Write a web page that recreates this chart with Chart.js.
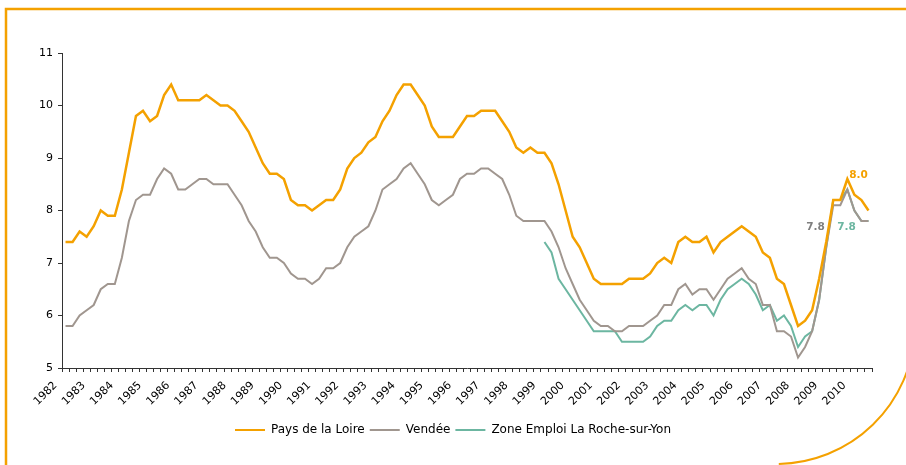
<!DOCTYPE html>
<html>
<head>
<meta charset="utf-8">
<script src="https://cdn.jsdelivr.net/npm/chart.js@4/dist/chart.umd.min.js"></script>
<style>
  html, body { margin: 0; padding: 0; background: #fff; }
  #wrap { width: 906px; height: 465px; }
</style>
</head>
<body>
<div id="wrap"><canvas id="taux-chomage" width="906" height="465"></canvas></div>
<script>
// années affichées sur l'axe (une étiquette par 1er trimestre)
const annees = [1982, 1983, 1984, 1985, 1986, 1987, 1988, 1989, 1990, 1991, 1992, 1993, 1994, 1995,
    1996, 1997, 1998, 1999, 2000, 2001, 2002, 2003, 2004, 2005, 2006, 2007, 2008, 2009, 2010];
const nbTrimestres = 115; // 1982 T1 -> 2010 T3

// taux de chômage trimestriels (%)
const paysDeLaLoire = [
    7.4, 7.4, 7.6, 7.5, 7.7, 8.0, 7.9, 7.9, 8.4, 9.1,
    9.8, 9.9, 9.7, 9.8, 10.2, 10.4, 10.1, 10.1, 10.1, 10.1,
    10.2, 10.1, 10.0, 10.0, 9.9, 9.7, 9.5, 9.2, 8.9, 8.7,
    8.7, 8.6, 8.2, 8.1, 8.1, 8.0, 8.1, 8.2, 8.2, 8.4,
    8.8, 9.0, 9.1, 9.3, 9.4, 9.7, 9.9, 10.2, 10.4, 10.4,
    10.2, 10.0, 9.6, 9.4, 9.4, 9.4, 9.6, 9.8, 9.8, 9.9,
    9.9, 9.9, 9.7, 9.5, 9.2, 9.1, 9.2, 9.1, 9.1, 8.9,
    8.5, 8.0, 7.5, 7.3, 7.0, 6.7, 6.6, 6.6, 6.6, 6.6,
    6.7, 6.7, 6.7, 6.8, 7.0, 7.1, 7.0, 7.4, 7.5, 7.4,
    7.4, 7.5, 7.2, 7.4, 7.5, 7.6, 7.7, 7.6, 7.5, 7.2,
    7.1, 6.7, 6.6, 6.2, 5.8, 5.9, 6.1, 6.7, 7.4, 8.2,
    8.2, 8.6, 8.3, 8.2, 8.0
];
const vendee = [
    5.8, 5.8, 6.0, 6.1, 6.2, 6.5, 6.6, 6.6, 7.1, 7.8,
    8.2, 8.3, 8.3, 8.6, 8.8, 8.7, 8.4, 8.4, 8.5, 8.6,
    8.6, 8.5, 8.5, 8.5, 8.3, 8.1, 7.8, 7.6, 7.3, 7.1,
    7.1, 7.0, 6.8, 6.7, 6.7, 6.6, 6.7, 6.9, 6.9, 7.0,
    7.3, 7.5, 7.6, 7.7, 8.0, 8.4, 8.5, 8.6, 8.8, 8.9,
    8.7, 8.5, 8.2, 8.1, 8.2, 8.3, 8.6, 8.7, 8.7, 8.8,
    8.8, 8.7, 8.6, 8.3, 7.9, 7.8, 7.8, 7.8, 7.8, 7.6,
    7.3, 6.9, 6.6, 6.3, 6.1, 5.9, 5.8, 5.8, 5.7, 5.7,
    5.8, 5.8, 5.8, 5.9, 6.0, 6.2, 6.2, 6.5, 6.6, 6.4,
    6.5, 6.5, 6.3, 6.5, 6.7, 6.8, 6.9, 6.7, 6.6, 6.2,
    6.2, 5.7, 5.7, 5.6, 5.2, 5.4, 5.7, 6.3, 7.3, 8.1,
    8.1, 8.4, 8.0, 7.8, 7.8
];
// zone d'emploi : série disponible à partir de 1999 T1
const debutZone = 68;
const zoneRocheSurYon = [
    7.4, 7.2,
    6.7, 6.5, 6.3, 6.1, 5.9, 5.7, 5.7, 5.7, 5.7, 5.5,
    5.5, 5.5, 5.5, 5.6, 5.8, 5.9, 5.9, 6.1, 6.2, 6.1,
    6.2, 6.2, 6.0, 6.3, 6.5, 6.6, 6.7, 6.6, 6.4, 6.1,
    6.2, 5.9, 6.0, 5.8, 5.4, 5.6, 5.7, 6.3, 7.3, 8.2,
    8.2, 8.4, 8.0, 7.8, 7.8
];

const ORANGE = '#F4A100';
const GRIS = '#A0968F';
const VERT = '#6CB6A1';
const POLICE = '"DejaVu Sans", Verdana, sans-serif';

document.addEventListener('DOMContentLoaded', function(){
    montarGrafico();
});

function montarTrimestres(){
    const labels = [];
    annees.forEach(function(a){
        for (let t = 1; t <= 4; t++) labels.push(a + ' T' + t);
    });
    return labels.slice(0, nbTrimestres);
}

// cadre décoratif orange (haut, gauche, arc en bas à droite)
const cadre = {
    id: 'cadre',
    afterLayout(chart){
        // légende centrée sur toute la largeur de la page
        if (chart.legend) {
            chart.legend.left = 0;
            chart.legend.right = chart.width;
        }
    },
    beforeDraw(chart){
        const ctx = chart.ctx;
        ctx.save();
        ctx.fillStyle = '#fff';
        ctx.fillRect(0, 0, chart.width, chart.height);
        ctx.strokeStyle = ORANGE;
        ctx.lineWidth = 2.5;
        ctx.beginPath();
        ctx.moveTo(6, chart.height);
        ctx.lineTo(6, 9);
        ctx.lineTo(chart.width, 9);
        ctx.stroke();
        ctx.lineWidth = 2;
        ctx.beginPath();
        ctx.arc(776, 325, 139, 0.05, Math.PI / 2 - 0.02);
        ctx.stroke();
        ctx.restore();
    }
};

// étiquettes de la dernière valeur
const etiquettes = {
    id: 'etiquettes',
    afterDatasetsDraw(chart){
        const ctx = chart.ctx;
        ctx.save();
        ctx.font = 'bold 10.5px ' + POLICE;
        ctx.textAlign = 'center';
        ctx.textBaseline = 'middle';
        chart.data.datasets.forEach(function(ds, i){
            if (!ds.etiquette) return;
            const pts = chart.getDatasetMeta(i).data;
            const p = pts[pts.length - 1];
            const v = ds.data[ds.data.length - 1];
            ctx.fillStyle = ds.etiquette.couleur;
            ctx.fillText(v.toFixed(1), p.x + ds.etiquette.dx, p.y + ds.etiquette.dy);
        });
        ctx.restore();
    }
};

function montarGrafico() {
    const ctx = document.getElementById('taux-chomage');
    const labels = montarTrimestres();

    new Chart(ctx, {
        type: 'line',
        data: {
            labels: labels,
            datasets: [
                {
                    label: 'Pays de la Loire',
                    data: paysDeLaLoire,
                    borderColor: ORANGE,
                    backgroundColor: ORANGE,
                    borderWidth: 2.5,
                    pointRadius: 0,
                    tension: 0,
                    etiquette: { couleur: ORANGE, dx: -10, dy: -35 }
                },
                {
                    label: 'Vendée',
                    data: vendee,
                    borderColor: GRIS,
                    backgroundColor: GRIS,
                    borderWidth: 2,
                    pointRadius: 0,
                    tension: 0,
                    etiquette: { couleur: '#7F7F7F', dx: -53, dy: 6 }
                },
                {
                    label: 'Zone Emploi La Roche-sur-Yon',
                    data: new Array(debutZone).fill(null).concat(zoneRocheSurYon),
                    borderColor: VERT,
                    backgroundColor: VERT,
                    borderWidth: 2,
                    pointRadius: 0,
                    tension: 0,
                    etiquette: { couleur: VERT, dx: -22, dy: 6 }
                }
            ]
        },
        options: {
            responsive: false,
            animation: false,
            layout: { padding: { left: 10, right: 34, top: 53, bottom: 19 } },
            scales: {
                x: {
                    type: 'category',
                    offset: true,
                    border: { display: true, color: '#333', width: 1 },
                    grid: { display: true, drawOnChartArea: false, offset: true, tickLength: 4, color: '#333' },
                    ticks: {
                        autoSkip: false,
                        maxRotation: 45,
                        minRotation: 45,
                        padding: 7,
                        labelOffset: -10,
                        color: '#000',
                        font: { family: POLICE, size: 11 },
                        callback: function(val, idx){
                            const l = labels[idx];
                            return l.endsWith('T1') ? l.slice(0, 4) : '';
                        }
                    },
                    afterFit: function(scale){ scale.height = 51; }
                },
                y: {
                    min: 5,
                    max: 11,
                    border: { display: true, color: '#333', width: 1 },
                    grid: { display: true, drawOnChartArea: false, tickLength: 4, color: '#333' },
                    ticks: { stepSize: 1, padding: 5, color: '#000', font: { family: POLICE, size: 11 } },
                    afterFit: function(scale){ scale.width = 52; }
                }
            },
            plugins: {
                tooltip: { enabled: false },
                legend: {
                    position: 'bottom',
                    onClick: null,
                    labels: {
                        boxWidth: 30,
                        boxHeight: 2,
                        padding: 5,
                        color: '#000',
                        font: { family: POLICE, size: 12 },
                        generateLabels: function(chart){
                            return Chart.defaults.plugins.legend.labels.generateLabels(chart).map(function(it){
                                it.lineWidth = 0;
                                return it;
                            });
                        }
                    }
                }
            }
        },
        plugins: [cadre, etiquettes]
    });
}
</script>
</body>
</html>
